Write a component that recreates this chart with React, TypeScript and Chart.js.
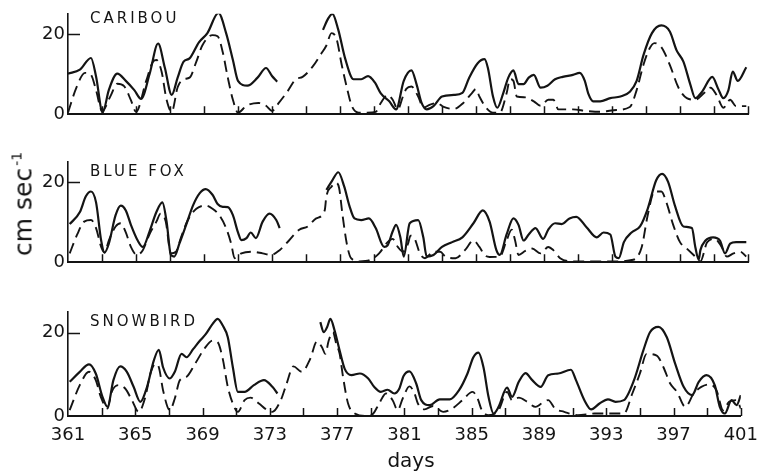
import React, { useEffect, useRef } from 'react';
import { Chart, registerables } from 'chart.js';

Chart.register(...registerables);

// ---------- data ----------
const DAY_MIN = 361;
const DAY_MAX = 401;
const Y_MAX = 25;
const xTickDays = [363, 365, 367, 369, 371, 373, 375, 377, 379, 381, 383, 385, 387, 389, 391, 393, 395, 397, 399, 401];
const xLabelDays = [361, 365, 369, 373, 377, 381, 385, 389, 393, 397, 401];
const yTickValues = [0, 20];
const yInnerTickValues = [20];

type Pt = [number, number | null];

const caribouSolid: Pt[] = [
  [361, 10.1], [361.7, 11.1], [362.35, 14.0], [362.65, 9.4], [363.04, 0.4], [363.4, 6], [363.9, 10.1], [364.4, 8.3],
  [364.9, 6], [365.3, 3.8], [365.8, 10], [366.3, 17.6], [366.7, 11.5], [367.1, 4.8], [367.45, 9.1], [367.8, 13.1],
  [368.15, 13.9], [368.7, 17.9], [369.2, 20.2], [369.85, 25.2], [370.3, 20.2], [370.7, 13.5], [371.0, 8.3], [371.55, 7.1],
  [372.15, 9.1], [372.65, 11.5], [373.0, 9.5], [373.3, 8.1], [374.6, null], [376.0, 21], [376.3, 23.8], [376.55, 25],
  [376.9, 21], [377.3, 13.9], [377.8, 8.7], [378.25, 8.7], [378.65, 9.5], [379.05, 7.9], [379.4, 5.2], [379.9, 3.2],
  [380.3, 1.2], [380.75, 8.3], [381.2, 10.9], [381.5, 7.5], [381.8, 2.8], [382.1, 1.2], [382.5, 2.0], [383.0, 4.4],
  [383.7, 4.8], [384.2, 5.3], [384.6, 9.1], [385.1, 12.7], [385.5, 13.7], [385.7, 11.5], [386.0, 4.4], [386.25, 1.6],
  [386.6, 5.2], [386.9, 9.1], [387.2, 10.9], [387.5, 7.5], [387.8, 7.5], [388.1, 9.1], [388.4, 9.8], [388.8, 6.6],
  [389.2, 7.1], [389.65, 8.7], [390.1, 9.3], [390.7, 9.8], [391.1, 10.3], [391.4, 8.3], [391.6, 5.2], [391.9, 3.2],
  [392.3, 3.2], [392.9, 4.0], [393.5, 4.4], [394.05, 5.6], [394.45, 8.3], [394.85, 14.7], [395.35, 20.2], [395.9, 22.1],
  [396.4, 20.6], [396.8, 15.9], [397.2, 13.1], [397.6, 7.5], [397.9, 4.0], [398.3, 5.6], [398.9, 9.3], [399.25, 6.3],
  [399.55, 4.0], [399.85, 6], [400.1, 10.6], [400.4, 8.3], [400.9, 11.7],
];

const caribouDashed: Pt[] = [
  [361, 0.4], [361.5, 6.7], [362.0, 10.3], [362.35, 9.8], [362.65, 6], [363.0, 0.8], [363.5, 4.5], [363.9, 7.6],
  [364.3, 7], [364.7, 3.5], [365.0, 0.6], [365.6, 8.3], [366.0, 13.1], [366.2, 13.5], [366.5, 10.7], [366.8, 3.6],
  [367.1, 0.6], [367.45, 6.7], [367.8, 8.7], [368.15, 9.1], [368.55, 13.1], [368.9, 17.1], [369.5, 19.7], [369.8, 19.4],
  [370.1, 15.5], [370.4, 9.1], [370.7, 3.6], [371.0, 0.4], [371.5, 2.1], [372.2, 2.8], [372.65, 2.1], [373.0, 0.8],
  [373.4, 2.8], [373.9, 5.6], [374.4, 8.7], [374.8, 9.3], [375.4, 11.9], [375.9, 15.1], [376.2, 17.1], [376.5, 20.2],
  [376.8, 18.7], [377.1, 12.3], [377.4, 6.7], [377.7, 2.0], [378.1, 0.4], [378.6, 0.4], [379.1, 0.6], [379.4, 2.8],
  [379.8, 4.8], [380.1, 3.6], [380.4, 1.2], [380.7, 4.4], [380.9, 6.3], [381.2, 6.9], [381.6, 4.4], [381.9, 1.6],
  [382.3, 2.4], [382.7, 2.8], [383.1, 1.8], [383.7, 1.3], [384.25, 2.8], [384.75, 5.2], [385.0, 6.3], [385.2, 4.4],
  [385.6, 1.6], [386.0, 0.4], [386.4, 0.4], [386.8, 5.2], [387.0, 8.7], [387.2, 8.3], [387.4, 4.4], [387.9, 4.2],
  [388.4, 3.2], [388.8, 2.1], [389.25, 3.6], [389.55, 3.6], [389.85, 1.2], [390.7, 1.2], [391.5, 0.8], [392.3, 0.6],
  [393.1, 1.0], [394.05, 1.8], [394.45, 6], [394.85, 12.3], [395.2, 16.3], [395.5, 17.7], [395.9, 16.7], [396.4, 12.3],
  [396.9, 6.7], [397.4, 4.0], [397.9, 3.6], [398.4, 5.2], [398.8, 6.6], [399.15, 4.8], [399.55, 1.6], [399.95, 3.6],
  [400.3, 2.0], [400.9, 2.0],
];

const blueFoxSolid: Pt[] = [
  [361.1, 9.5], [361.7, 12.5], [362.05, 16.4], [362.35, 17.6], [362.65, 14.9], [362.95, 5.4], [363.15, 2.4], [363.4, 4.6],
  [363.8, 11.7], [364.1, 14.1], [364.4, 12.9], [364.7, 9.3], [365.1, 5.4], [365.4, 3.8], [365.8, 7.7], [366.2, 12.5],
  [366.55, 14.9], [366.8, 10.1], [367.05, 1.8], [367.25, 1.4], [367.55, 4.6], [367.95, 9.3], [368.35, 14.1], [368.75, 17.2],
  [369.1, 18.2], [369.5, 16.8], [369.8, 14.5], [370.1, 13.8], [370.4, 13.7], [370.7, 11.7], [371.0, 7.4], [371.2, 5.5],
  [371.5, 6], [371.75, 7.4], [372.05, 6], [372.45, 10.1], [372.85, 12.1], [373.25, 10.5], [373.45, 8.5], [374.8, null],
  [376.2, 18], [376.55, 20.4], [376.9, 22.4], [377.25, 18.8], [377.55, 14.1], [377.85, 10.9], [378.25, 10.5], [378.7, 10.9],
  [379.1, 8.5], [379.6, 3.8], [379.8, 4.2], [380.1, 7.7], [380.3, 9.3], [380.55, 6.2], [380.75, 1.4], [381.1, 9.7],
  [381.6, 10.5], [381.9, 6.2], [382.1, 1.4], [382.5, 1.8], [383.0, 3.8], [383.6, 5.0], [384.2, 6.2], [384.85, 9.7],
  [385.4, 12.9], [385.8, 10.1], [386.2, 3.0], [386.4, 1.8], [386.8, 6.9], [387.2, 10.9], [387.5, 9.3], [387.8, 5.4],
  [388.1, 6.9], [388.5, 8.5], [388.95, 5.8], [389.25, 8.1], [389.65, 9.7], [390.05, 9.5], [390.5, 10.9], [390.9, 11.3],
  [391.5, 8.7], [392.1, 6.2], [392.5, 7.4], [392.9, 6.9], [393.2, 1.4], [393.4, 1.0], [393.7, 5.0], [394.15, 7.4],
  [394.65, 8.9], [395.1, 13.3], [395.6, 20.4], [395.95, 22], [396.3, 20], [396.7, 14.1], [397.2, 8.9], [397.7, 8.5],
  [397.9, 3.8], [398.1, 0.6], [398.2, 3.0], [398.5, 5.4], [398.95, 6.2], [399.35, 5.4], [399.65, 2.2], [399.95, 4.6],
  [400.3, 5.0], [400.9, 5.0],
];

const blueFoxDashed: Pt[] = [
  [361.1, 2.2], [361.55, 7.0], [361.95, 10.1], [362.35, 10.5], [362.65, 8.5], [362.95, 3.8], [363.15, 2.4], [363.4, 5.4],
  [363.8, 8.9], [364.1, 9.7], [364.4, 7.4], [364.7, 3.8], [365.05, 1.8], [365.4, 3.0], [365.8, 7.0], [366.2, 10.1],
  [366.45, 12.1], [366.75, 10.1], [367.05, 2.2], [367.35, 2.6], [367.65, 6.2], [368.05, 10.5], [368.55, 13.3], [369.1, 14.1],
  [369.5, 13.3], [369.9, 11.7], [370.3, 8.5], [370.6, 4.6], [370.8, 1.0], [371.2, 2.2], [371.85, 2.6], [372.45, 2.2],
  [372.95, 1.8], [373.45, 3.0], [374.0, 5.4], [374.6, 8.1], [375.1, 8.9], [375.6, 10.9], [376.1, 12.9], [376.2, 16.4],
  [376.5, 18.8], [376.75, 19.8], [376.95, 18.4], [377.15, 11.7], [377.4, 4.6], [377.65, 1.0], [378.15, 0.2], [378.8, 0.6],
  [379.3, 2.2], [379.8, 5.0], [380.1, 5.8], [380.4, 3.8], [380.7, 2.6], [381.0, 4.6], [381.15, 6.6], [381.4, 5.8],
  [381.7, 2.2], [382.0, 1.0], [382.5, 2.6], [382.9, 2.6], [383.2, 1.4], [383.8, 1.0], [384.35, 3.0], [384.85, 5.4],
  [385.2, 3.8], [385.5, 1.8], [385.8, 1.3], [386.4, 1.4], [386.8, 5.4], [387.1, 8.1], [387.3, 5.4], [387.5, 1.8],
  [387.9, 2.8], [388.3, 3.4], [388.8, 2.2], [389.25, 3.8], [389.55, 3.0], [389.95, 1.0], [390.7, 0.2], [391.9, 0.2],
  [393.1, 0.2], [394.25, 0.6], [394.75, 3.8], [395.1, 11.7], [395.5, 17.6], [395.9, 17.6], [396.2, 14.9], [396.6, 9.3],
  [397.0, 5.0], [397.4, 3.4], [397.8, 1.8], [398.2, 0.2], [398.6, 5.0], [399.05, 5.8], [399.45, 3.8], [399.75, 1.4],
  [400.15, 2.2], [400.55, 2.6], [400.9, 1.4],
];

const snowbirdSolid: Pt[] = [
  [361.1, 8.2], [361.7, 10.6], [362.25, 12.4], [362.65, 10.2], [363.05, 4.6], [363.35, 2.2], [363.7, 8.6], [364.1, 11.9],
  [364.5, 10.6], [364.9, 7.0], [365.3, 3.4], [365.7, 7.0], [366.1, 13.3], [366.4, 15.9], [366.65, 11.7], [367.05, 9.0],
  [367.35, 10.6], [367.75, 14.9], [368.05, 14.1], [368.45, 16.1], [368.85, 18.1], [369.2, 19.7], [369.6, 22.1], [369.9, 23.3],
  [370.2, 21.7], [370.5, 18.9], [370.8, 11.7], [371.1, 5.8], [371.5, 5.8], [372.05, 7.4], [372.65, 8.6], [373.15, 7.0],
  [373.45, 5.4], [374.7, null], [376.0, 22.5], [376.2, 20.1], [376.4, 21.3], [376.6, 23.3], [376.85, 20.5], [377.15, 15.7],
  [377.45, 11.3], [377.85, 9.8], [378.35, 10.2], [378.85, 9.0], [379.2, 7.0], [379.6, 5.8], [380.0, 6.3], [380.4, 5.4],
  [380.7, 6.6], [380.95, 9.6], [381.3, 10.7], [381.7, 7.8], [382.0, 3.8], [382.5, 2.6], [383.1, 4.0], [383.7, 4.0],
  [384.25, 6.2], [384.75, 10.2], [385.1, 14.1], [385.4, 15.2], [385.7, 11.7], [386.0, 4.6], [386.3, 0.6], [386.6, 2.2],
  [387.1, 6.8], [387.4, 4.6], [387.8, 8.2], [388.2, 10.3], [388.6, 8.6], [389.1, 7.0], [389.55, 9.8], [390.15, 10.2],
  [390.9, 11.1], [391.2, 8.6], [391.7, 3.8], [392.1, 1.6], [392.6, 3.0], [393.1, 4.0], [393.55, 3.4], [394.05, 3.8],
  [394.65, 8.6], [395.2, 15.7], [395.6, 20.1], [396.1, 21.4], [396.6, 18.9], [397.1, 12.5], [397.6, 7.0], [398.1, 5.0],
  [398.5, 8.2], [398.95, 9.8], [399.45, 7.4], [399.75, 2.2], [400.05, 0.6], [400.45, 3.8], [400.75, 2.6], [401.0, 5.0],
];

const snowbirdDashed: Pt[] = [
  [361.1, 1.4], [361.7, 7.4], [362.25, 10.6], [362.65, 8.6], [362.95, 4.6], [363.35, 1.8], [363.6, 5.8], [364.0, 7.4],
  [364.4, 6.6], [364.8, 3.8], [365.2, 1.0], [365.6, 4.6], [365.9, 10.2], [366.2, 12.5], [366.4, 11.7], [366.65, 6.2],
  [367.05, 1.4], [367.35, 4.2], [367.65, 8.6], [368.05, 9.4], [368.55, 12.5], [369.1, 16.1], [369.6, 18.1], [369.9, 17.7],
  [370.2, 13.7], [370.5, 7.0], [370.8, 3.0], [371.1, 1.0], [371.5, 3.8], [371.85, 4.4], [372.35, 3.0], [372.85, 1.4],
  [373.15, 1.0], [373.65, 3.8], [374.0, 7.8], [374.4, 11.9], [374.9, 10.6], [375.4, 13.7], [375.8, 17.9], [376.1, 16.5],
  [376.3, 14.9], [376.5, 18.1], [376.75, 20.1], [376.95, 17.3], [377.15, 14.9], [377.35, 9.4], [377.65, 3.0], [378.05, 0.6],
  [378.75, 0], [379.15, 0.6], [379.5, 3.0], [379.9, 5.4], [380.3, 3.8], [380.6, 1.4], [380.9, 4.2], [381.3, 7.1],
  [381.6, 5.4], [381.8, 3.0], [382.2, 1.6], [382.7, 2.4], [383.3, 1.0], [383.85, 1.8], [384.45, 3.8], [385.05, 5.8],
  [385.35, 4.2], [385.6, 1.4], [386.0, 0.2], [386.6, 1.4], [387.1, 5.8], [387.4, 3.8], [387.8, 4.4], [388.3, 3.4],
  [388.8, 2.2], [389.15, 3.0], [389.55, 3.8], [389.95, 1.8], [390.5, 1.0], [391.3, 0.2], [392.3, 0.6], [393.3, 0.6],
  [394.05, 0.6], [394.55, 5.4], [395.0, 10.2], [395.4, 14.9], [396.0, 14.5], [396.4, 11.7], [396.8, 7.8], [397.2, 5.8],
  [397.7, 2.2], [398.2, 5.4], [398.65, 7.0], [399.15, 7.6], [399.55, 6.2], [399.95, 1.4], [400.3, 3.4], [400.75, 3.8],
  [401.0, 1.8],
];

// ---------- layout / style ----------
const W = 767;
const H = 472;
const PLOT_LEFT = 68;
const PLOT_RIGHT = 748;
const FONT = '"DejaVu Sans", "Liberation Sans", sans-serif';
const INK = '#141414';

type PanelDef = {
  name: string;
  solid: Pt[];
  dashed: Pt[];
  canvasTop: number;
  canvasHeight: number;
  plotBottom: number;
  titleTop: number;
  showLabels: boolean;
};

const panels: PanelDef[] = [
  { name: 'CARIBOU', solid: caribouSolid, dashed: caribouDashed, canvasTop: 0, canvasHeight: 128, plotBottom: 115, titleTop: 11, showLabels: false },
  { name: 'BLUE FOX', solid: blueFoxSolid, dashed: blueFoxDashed, canvasTop: 148, canvasHeight: 128, plotBottom: 266, titleTop: 163.8, showLabels: false },
  { name: 'SNOWBIRD', solid: snowbirdSolid, dashed: snowbirdDashed, canvasTop: 298, canvasHeight: 174, plotBottom: 416, titleTop: 313.8, showLabels: true },
];
const PLOT_HEIGHT = 105;

function makeDataset(points: Pt[], dashed: boolean) {
  return {
    data: points.map(([x, y]) => ({ x, y })),
    borderColor: INK,
    backgroundColor: INK,
    borderWidth: dashed ? 1.9 : 2.2,
    borderDash: dashed ? [11, 6] : [],
    pointRadius: 0,
    pointHoverRadius: 0,
    fill: false,
    cubicInterpolationMode: 'monotone' as const,
    spanGaps: false,
  };
}

const innerTicks = {
  id: 'innerTicks',
  afterDraw(chart: any) {
    const { ctx } = chart;
    const xs = chart.scales.x;
    const ys = chart.scales.y;
    ctx.save();
    ctx.strokeStyle = INK;
    ctx.lineWidth = 1.5;
    ctx.setLineDash([]);
    ctx.beginPath();
    for (const d of xTickDays) {
      const px = Math.round(xs.getPixelForValue(d)) + 0.5;
      ctx.moveTo(px, ys.bottom);
      ctx.lineTo(px, ys.bottom - 8);
    }
    for (const v of yInnerTickValues) {
      const py = Math.round(ys.getPixelForValue(v)) + 0.5;
      ctx.moveTo(xs.left, py);
      ctx.lineTo(xs.left + 12, py);
    }
    ctx.stroke();
    ctx.restore();
  },
};

function Panel({ p }: { p: PanelDef }) {
  const ref = useRef<HTMLCanvasElement>(null);
  useEffect(() => {
    if (!ref.current) return;
    const plotTop = p.plotBottom - PLOT_HEIGHT;
    const chart = new Chart(ref.current, {
      type: 'line',
      data: { datasets: [makeDataset(p.solid, false), makeDataset(p.dashed, true)] as any },
      options: {
        animation: false,
        responsive: false,
        maintainAspectRatio: false,
        devicePixelRatio: 1,
        events: [],
        layout: { padding: { top: plotTop - p.canvasTop, right: W - PLOT_RIGHT, left: 0, bottom: 0 } },
        plugins: { legend: { display: false }, tooltip: { enabled: false }, title: { display: false } },
        scales: {
          x: {
            type: 'linear',
            min: DAY_MIN,
            max: DAY_MAX,
            grid: { display: false, drawTicks: false },
            border: { display: true, color: INK, width: 2 },
            ticks: {
              display: p.showLabels,
              color: INK,
              font: { family: FONT, size: 18 },
              padding: 9,
              maxRotation: 0,
              autoSkip: false,
              callback: (v: any) => String(v),
            },
            afterBuildTicks: (s: any) => {
              s.ticks = xLabelDays.map((v) => ({ value: v }));
            },
            afterFit: (s: any) => {
              s.height = p.canvasTop + p.canvasHeight - p.plotBottom;
            },
          },
          y: {
            type: 'linear',
            min: 0,
            max: Y_MAX,
            grid: { display: false, drawTicks: false },
            border: { display: true, color: INK, width: 1.6 },
            ticks: {
              color: INK,
              font: { family: FONT, size: 18 },
              padding: 3,
              callback: (v: any) => String(v),
            },
            afterBuildTicks: (s: any) => {
              s.ticks = yTickValues.map((v) => ({ value: v }));
            },
            afterFit: (s: any) => {
              s.width = PLOT_LEFT;
            },
          },
        },
      } as any,
      plugins: [innerTicks],
    });
    return () => chart.destroy();
  }, [p]);
  return (
    <canvas
      ref={ref}
      width={W}
      height={p.canvasHeight}
      style={{ position: 'absolute', left: 0, top: p.canvasTop, width: W, height: p.canvasHeight }}
    />
  );
}

export default function App() {
  return (
    <div style={{ position: 'fixed', left: 0, top: 0, width: W, height: H, background: '#fff', overflow: 'hidden', fontFamily: FONT, color: INK }}>
      {panels.map((p) => (
        <Panel key={p.name} p={p} />
      ))}
      {panels.map((p) => (
        <div
          key={'t' + p.name}
          style={{ position: 'absolute', left: 90, top: p.titleTop, fontSize: 15, lineHeight: '15px', letterSpacing: '3px', whiteSpace: 'nowrap' }}
        >
          {p.name}
        </div>
      ))}
      <div
        style={{
          position: 'absolute',
          left: 22.5,
          top: 204,
          transform: 'translate(-50%, -50%) rotate(-90deg)',
          fontSize: 25,
          lineHeight: '25px',
          whiteSpace: 'nowrap',
        }}
      >
        cm sec<sup style={{ fontSize: 14, verticalAlign: 'top', position: 'relative', top: -6, marginLeft: 2 }}>-1</sup>
      </div>
      <div
        style={{ position: 'absolute', left: 411, top: 450, transform: 'translateX(-50%)', fontSize: 20, lineHeight: '20px', whiteSpace: 'nowrap' }}
      >
        days
      </div>
    </div>
  );
}
